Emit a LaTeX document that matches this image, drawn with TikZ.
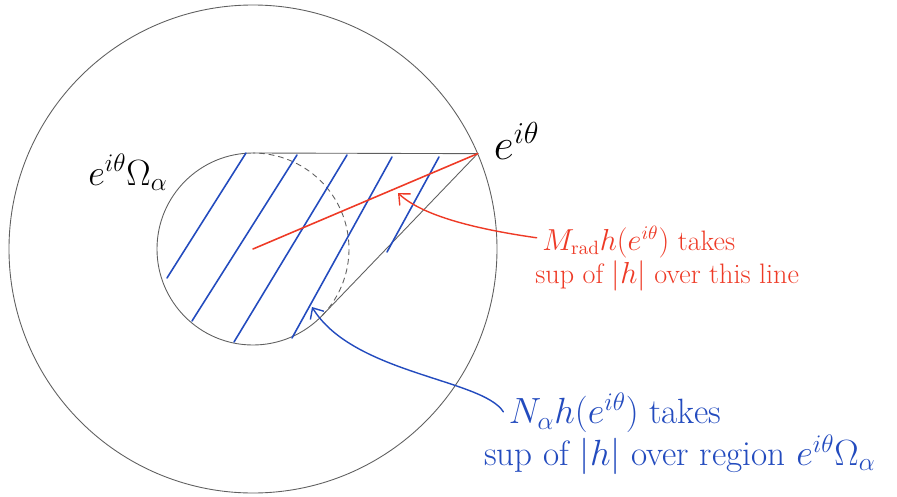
\documentclass[tikz,border=0pt]{standalone}
\usepackage{amsmath,amssymb}
\usetikzlibrary{arrows.meta}
\usepackage{xcolor}
\definecolor{penred}{RGB}{238, 58, 38}
\definecolor{penblue}{RGB}{35, 75, 190}
\definecolor{pengray}{RGB}{95, 95, 95}

\begin{document}
\begin{tikzpicture}[>={Straight Barb[length=5pt,width=9pt]}, line cap=round,
    circ/.style={pengray, line width=0.5pt},
    hatch/.style={penblue, line width=0.9pt},
    redtxt/.style={penred, anchor=north west, align=left, inner sep=0pt, font=\fontsize{16}{19}\selectfont},
    bluetxt/.style={penblue, anchor=north west, align=left, inner sep=0pt, font=\fontsize{20}{22}\selectfont}]

    \useasboundingbox (-5.06,-4.94) rectangle (12.88,4.98);

    \def\R{4.88}
    \def\r{1.92}
    \pgfmathsetmacro{\tang}{acos(\r/\R)}
    \pgfmathsetmacro{\ta}{23+\tang}
    \pgfmathsetmacro{\tb}{23-\tang}

    \coordinate (O) at (0,0);
    \coordinate (P) at (23:\R);
    \coordinate (T1) at (\ta:\r);
    \coordinate (T2) at (\tb:\r);

    % --- circulos ---
    \draw[circ] (O) circle (\R);
    \draw[circ] (T1) arc (\ta:\tb+360:\r) -- (P) -- cycle;
    \draw[circ, dash pattern=on 3pt off 2.5pt] (T2) arc (\tb:\ta:\r);

    % --- rayado ---
    \foreach \x/\y/\u/\v in {-1.72/-0.58/-0.14/1.92, -1.22/-1.44/0.88/1.88,
        -0.38/-1.86/1.88/1.88, 0.78/-1.78/2.78/1.84, 2.68/-0.06/3.72/1.84}
        \draw[hatch] (\x,\y) -- (\u,\v);

    % --- radio ---
    \draw[penred, line width=0.9pt] (O) -- (P);

    % --- etiquetas ---
    \node[anchor=base west, inner sep=0pt, font=\fontsize{24}{28}\selectfont] (ptlabel)
        at ([xshift=0.32cm, yshift=-0.12cm]P) {$e^{i\theta}$};
    \node[anchor=base west, inner sep=0pt, font=\fontsize{20}{24}\selectfont] (omegalabel)
        at (-3.30,1.28) {$e^{i\theta}\Omega_\alpha$};

    \node[redtxt] (mrad) at (5.64,0.47)
        {\hspace*{4pt}$M_{\mathrm{rad}}h(e^{i\theta})$ takes\\ sup of $|h|$ over this line};
    \node[bluetxt] (nalpha) at (4.62,-2.87)
        {\hspace*{14pt}$N_\alpha h(e^{i\theta})$ takes\\ sup of $|h|$ over region $e^{i\theta}\Omega_\alpha$};

    % --- flechas ---
    \coordinate (redtip) at (2.90,1.12);
    \coordinate (bluetip) at (1.18,-1.16);
    \draw[->, penred, line width=0.8pt] ([xshift=1pt, yshift=-7pt]mrad.north west)
        .. controls (4.3,0.42) and (3.35,0.7) .. (redtip);
    \draw[->, penblue, line width=0.8pt] ([xshift=11pt, yshift=-11pt]nalpha.north west)
        .. controls (4.6,-2.6) and (2.0,-2.5) .. (bluetip);

\end{tikzpicture}
\end{document}
